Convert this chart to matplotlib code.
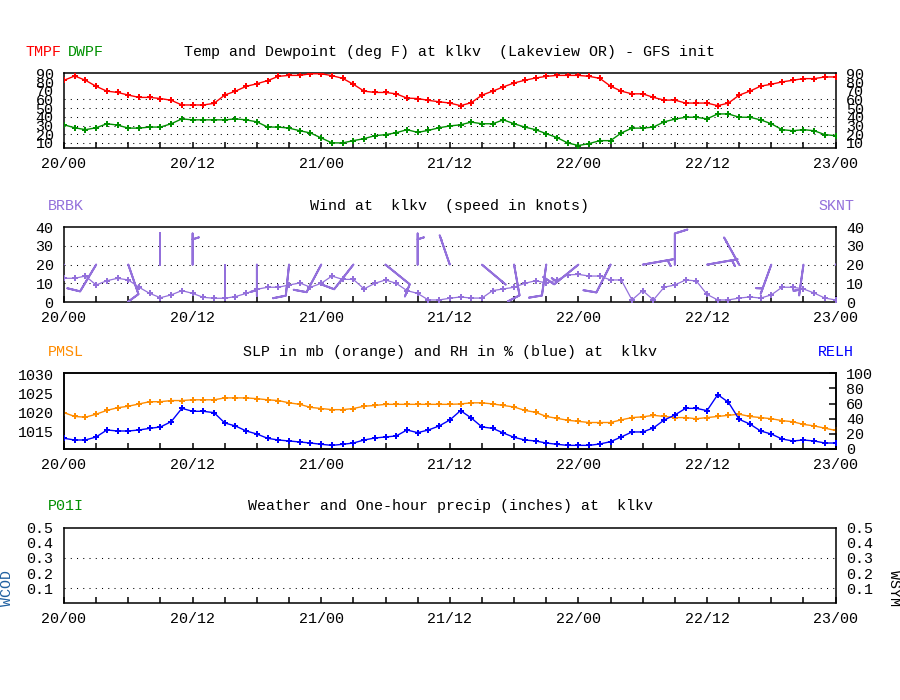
import numpy as np
import matplotlib
matplotlib.use("Agg")
import matplotlib.pyplot as plt
from matplotlib.ticker import FixedLocator

plt.rcParams['font.family'] = ['Liberation Mono', 'DejaVu Sans Mono']

# ---------------- data ----------------
hours = np.arange(73)                      # forecast hours from 20/00
time_labels = ['20/00', '20/12', '21/00', '21/12', '22/00', '22/12', '23/00']
label_hours = [0, 12, 24, 36, 48, 60, 72]

tmpf = [82, 86.9, 82, 75, 69.5, 68, 65, 62.3, 62.3, 61, 59, 53.6, 53.6, 53.6, 55.5,
        65, 69.5, 75, 78, 81.6, 86.5, 87.6, 87.6, 89.5, 89.5,
        87.3, 84.2, 77.4, 69.5, 68, 68, 66.4, 61.5, 61, 58.9, 57.3, 55.8,
        52.8, 56.2, 64.9, 69.5, 74.4, 78.9, 82, 84.6, 86.5, 87.6, 87.6, 87.6,
        86.5, 84.2, 75.2, 69.5, 66.4, 66.4, 62.3, 59.2, 59.2, 55.8, 55.8, 55.8,
        52.8, 55.8, 64.9, 69.5, 75.2, 77.4, 80.1, 82, 83.9, 83.9, 85.8, 85.8]

dwpf = [30.8, 27.4, 25.2, 27.4, 32, 30.5, 27, 27, 28.2, 28.2, 32, 37.6, 36.5, 36.5,
        36.5, 36.5, 37.6, 36.5, 34.2, 28.2, 28.2, 27, 24, 21.4, 15.7,
        10, 10, 12.6, 14.9, 18.3, 19.5, 21.7, 25.2, 22.1, 24.4, 27.4, 29.5,
        30.8, 33.9, 32, 32, 36.5, 32, 28.2, 25.2, 20.6, 16.1, 10, 7,
        9.2, 12.6, 12.6, 21.4, 27, 27, 28.2, 34.2, 37.3, 39.5, 39.5, 37.6,
        43.3, 43.3, 39.5, 39.5, 36.5, 32, 25.2, 24, 25.2, 24, 19.5, 18.3]

sknt = [12.7, 12.7, 13.9, 9.1, 11.4, 12.7, 11.8, 7.9, 4.6, 2.3, 3.8, 6.1, 4.6, 2.5,
        2, 2, 2.9, 4.6, 6.8, 7.9, 7.9, 9.1, 10.2, 7.9, 10,
        13.9, 12.1, 12.1, 7, 10, 11.8, 10, 6.1, 4.6, 1.1, 1.1, 2,
        2.7, 2.1, 2.1, 6.1, 7, 7.9, 10, 11.4, 10.2, 11.8, 14.5, 14.8,
        13.9, 13.9, 11.8, 11.8, 1.1, 6.1, 1.1, 7.9, 9.1, 11.8, 11.3, 4.1,
        1.1, 1.1, 2.1, 2.7, 2.1, 3.8, 7.9, 7.9, 7, 4.8, 2.1, 1.1]

pmsl = [1020, 1019.0, 1018.8, 1019.6, 1020.6, 1021.3, 1021.7, 1022.3, 1022.9, 1022.9,
        1023.2, 1023.2, 1023.4, 1023.4, 1023.4, 1023.9, 1023.9, 1023.9, 1023.7, 1023.4,
        1023.2, 1022.6, 1022.2, 1021.4, 1021.1,
        1020.8, 1020.8, 1021.1, 1021.7, 1021.9, 1022.2, 1022.2, 1022.2, 1022.2, 1022.2,
        1022.2, 1022.2,
        1022.3, 1022.6, 1022.6, 1022.3, 1021.9, 1021.5, 1020.6, 1020.1, 1019.0, 1018.5,
        1018.0, 1017.7,
        1017.4, 1017.4, 1017.4, 1018.1, 1018.7, 1018.9, 1019.3, 1019.0, 1018.7, 1018.7,
        1018.4, 1018.7,
        1019.0, 1019.3, 1019.6, 1019.0, 1018.7, 1018.4, 1017.9, 1017.6, 1016.9, 1016.5,
        1015.9, 1015.3]

relh = [14.1, 11.9, 11.9, 15.9, 25.1, 23.8, 23.8, 25.1, 27.3, 29.1, 36.1, 53.7, 49.8,
        49.8, 48, 34.4, 30.4, 23.8, 19.8, 14.1, 11.9, 10.6, 9.3, 7.9, 6.2,
        4.8, 6.2, 7.9, 11.9, 14.5, 15.9, 17.2, 25.1, 21.6, 25.1, 30.4, 38.3,
        50.7, 41, 29.1, 27.3, 21.1, 15.4, 11.9, 10.6, 7.9, 6.2, 4.8, 4.8,
        4.8, 6.6, 9.7, 15.9, 22.5, 22.5, 27.8, 38.3, 44.9, 53.7, 53.7, 50.7,
        71.8, 61.7, 39.2, 33, 23.8, 19.8, 13.2, 10.6, 11.9, 10.6, 7.9, 7.9]

# wind barbs every 3 h: direction wind comes from (deg), speed from sknt
barb_hours = list(range(0, 73, 3))
barb_dir = [280, 211, 161, 0, 0, 180, 180, 186, 208, 218, 129, 0, 341,
            130, 170, 188, 231, 207, 80, 0, 80, 331, 200, 188, 75]
barb_level = 20

# ---------------- style ----------------
RED = '#ff0000'
GREEN = '#009000'
PURPLE = '#9370db'
ORANGE = '#ff8c00'
BLUE = '#0000ff'
WCOD_C = '#2060a0'
FS = 10.8
W, H = 900, 700
SPW = 1.1

fig = plt.figure(figsize=(9, 7), dpi=100)
fig.patch.set_facecolor('white')

left, right = 64, 835.6
def axrect(top, bottom):
    return [left / W, 1 - bottom / H, (right - left) / W, (bottom - top) / H]

def ftext(x, y, s, **kw):
    fig.text(x / W, 1 - y / H, s, fontsize=FS, va='center', **kw)

dot = (0, (1, 5))

def style(ax, ylim, yticks, grid_levels, tick_levels, labelright=True):
    for s in ax.spines.values():
        s.set_linewidth(SPW)
    ax.set_xlim(0, 72)
    ax.set_ylim(*ylim)
    ax.xaxis.set_major_locator(FixedLocator(label_hours))
    ax.set_xticklabels(time_labels)
    ax.xaxis.set_minor_locator(FixedLocator([h for h in range(3, 72, 3) if h % 12]))
    ax.tick_params(axis='x', which='both', direction='in', length=4.3, width=SPW,
                   labelsize=FS, pad=6.5, top=False)
    ax.yaxis.set_major_locator(FixedLocator(yticks))
    ax.yaxis.set_minor_locator(FixedLocator(tick_levels))
    ax.tick_params(axis='y', which='major', direction='in', length=0, labelsize=FS,
                   pad=7.5, left=True, right=True, labelleft=True, labelright=labelright)
    ax.tick_params(axis='y', which='minor', direction='in', length=5, width=SPW,
                   left=True, right=True)
    for lv in grid_levels:
        ax.axhline(lv, ls=dot, lw=0.75, color='k', zorder=1)

mk = dict(marker='P', markersize=4.5, linewidth=1.0, markeredgewidth=0)

# ---- panel 1: temperature / dewpoint ----
ax1 = fig.add_axes(axrect(73.3, 148.3))
ax1.plot(hours, tmpf, color=RED, **mk, zorder=3)
ax1.plot(hours, dwpf, color=GREEN, **mk, zorder=3)
style(ax1, (3.8, 90), list(range(10, 91, 10)), [10, 20, 30, 40, 50, 60], [70, 80])
ftext(25, 52, 'TMPF', color=RED)
ftext(68, 52, 'DWPF', color=GREEN)
ftext(450, 52, 'Temp and Dewpoint (deg F) at klkv  (Lakeview OR) - GFS init', ha='center')

# ---- panel 2: wind ----
ax2 = fig.add_axes(axrect(227.3, 302))
style(ax2, (0, 40), [0, 10, 20, 30, 40], [10, 20, 30], [])
ax2.plot(hours, sknt, color=PURPLE, marker='P', markersize=3.8, linewidth=0.9,
         markeredgewidth=0, zorder=3)
bspd = np.array([sknt[h] for h in barb_hours])
brad = np.deg2rad(barb_dir)
bx = np.array(barb_hours, dtype=float)
by = np.full(len(barb_hours), barb_level, dtype=float)
bu = -bspd * np.sin(brad)
bv = -bspd * np.cos(brad)
calm = bspd < 2.5
blen = 6.7
ax2.barbs(bx[~calm], by[~calm], bu[~calm], bv[~calm], length=blen,
          color=PURPLE, linewidth=1.4, sizes=dict(emptybarb=0.0), zorder=4)
# calm winds: shaft only
ax2.barbs(bx[calm], by[calm], bu[calm], bv[calm], length=blen,
          color=PURPLE, linewidth=1.4, sizes=dict(emptybarb=0.0, height=0.0),
          barb_increments=dict(half=0.01, full=1e6, flag=1e7), zorder=4)
ftext(48, 206, 'BRBK', color=PURPLE)
ftext(818, 206, 'SKNT', color=PURPLE)
ftext(450, 206, 'Wind at  klkv  (speed in knots)', ha='center')

# ---- panel 3: SLP and RH ----
ax3 = fig.add_axes(axrect(373.3, 449))
ax3.plot(hours, pmsl, color=ORANGE, **mk, zorder=3)
style(ax3, (1010.4, 1030.4), [1015, 1020, 1025, 1030], [], [1015, 1020, 1025, 1030],
      labelright=False)
ax3.tick_params(axis='y', which='minor', right=False)
ax3b = ax3.twinx()
ax3b.set_ylim(0, 100)
ax3b.plot(hours, relh, color=BLUE, **mk, zorder=3)
ax3b.yaxis.set_major_locator(FixedLocator([0, 20, 40, 60, 80, 100]))
ax3b.tick_params(axis='y', direction='in', length=5, width=SPW, labelsize=FS, pad=7.5)
for s in ax3b.spines.values():
    s.set_linewidth(SPW)
ftext(48, 352, 'PMSL', color=ORANGE)
ftext(818, 352, 'RELH', color=BLUE)
ftext(450, 352, 'SLP in mb (orange) and RH in % (blue) at  klkv', ha='center')

# ---- panel 4: weather / precip ----
ax4 = fig.add_axes(axrect(527.7, 603.3))
style(ax4, (0, 0.5), [0.1, 0.2, 0.3, 0.4, 0.5], [0.1, 0.3], [0.2, 0.4])
ftext(48, 506, 'P01I', color=GREEN)
ftext(450, 506, 'Weather and One-hour precip (inches) at  klkv', ha='center')
fig.text(7 / W, 1 - 587.5 / H, 'WCOD', fontsize=FS, color=WCOD_C, rotation=90,
         ha='center', va='center')
fig.text(894 / W, 1 - 587.5 / H, 'WSYM', fontsize=FS, color='black', rotation=270,
         ha='center', va='center')

fig.savefig('out.png', dpi=100, facecolor='white')
